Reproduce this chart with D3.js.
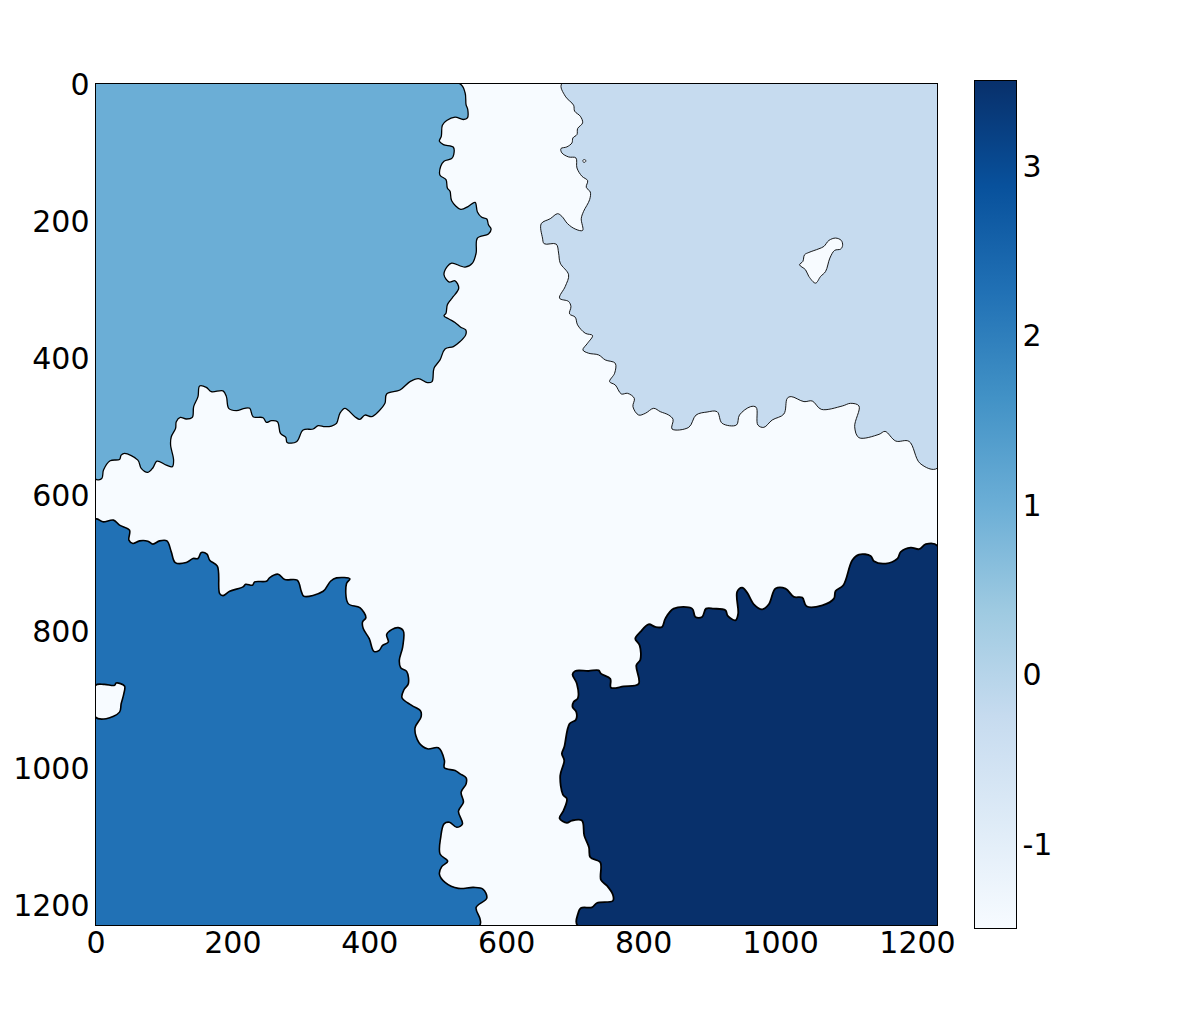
<!DOCTYPE html>
<html>
<head>
<meta charset="utf-8">
<script src="https://cdnjs.cloudflare.com/ajax/libs/d3/7.8.5/d3.min.js"></script>
<style>
html, body { margin: 0; padding: 0; background: #fff; }
svg { display: block; }
text { font-family: "DejaVu Sans", sans-serif; font-size: 30px; fill: #000; }
</style>
</head>
<body>
<div id="chart"></div>
<script>
// tick labels
const xTicks = [0, 200, 400, 600, 800, 1000, 1200]
const yTicks = [0, 200, 400, 600, 800, 1000, 1200]
const barTicks = [-1, 0, 1, 2, 3]

// Blues colormap stops, spread over the colorbar range
const bluesStops = ['#f7fbff', '#deebf7', '#c6dbef', '#9ecae1', '#6baed6', '#4292c6', '#2171b5', '#08519c', '#08306b']
const barRange = [-1.5, 3.5]

// value of each segment
const backgroundValue = -1.5
const topLeftValue = 1
const topRightValue = -0.25
const bottomLeftValue = 2.25
const bottomRightValue = 3.5

// segment outlines in image coordinates
const topLeft = [[0,0],[531.6,0],[539.9,13.6],[541.3,30.7],[543.8,38],[543.3,50.2],[537.4,52.6],[525.2,49.2],[513,54.1],[506.7,61],[505.2,77],[502.3,84.3],[508.2,89.2],[522.8,93.1],[523.3,103.8],[520.3,109.7],[509.1,113.6],[504.3,120.9],[503.3,134.1],[512,140.4],[514,152.6],[517.9,157.5],[520.3,171.2],[533.5,183.8],[544.7,179.4],[554.5,173.6],[557.9,187.7],[564.2,195.5],[571.6,198],[574,206.3],[577.9,212.6],[574,219.9],[557.9,225.8],[556,247.7],[550.6,262.4],[539.9,268.2],[520.3,262.4],[514,267.2],[509.1,279.4],[516.9,290.1],[525.2,288.2],[530.6,298.9],[522.8,311.1],[518.9,316],[514,323.3],[512,335.5],[509.1,339.4],[516.9,344.3],[525.2,349.2],[533.5,356],[540.8,359.9],[540.8,367.2],[532.6,377],[522.8,384.3],[510.6,387.7],[503.3,403.8],[494.5,416],[491.6,435.5],[484.8,437],[471.6,431.1],[459.4,435.5],[444.8,447.7],[425.3,453.5],[422.8,467.2],[413.1,479.4],[403.3,486.7],[393.6,484.3],[386.2,490.6],[378.9,486.7],[364.3,474.5],[357,481.8],[352.1,496.4],[344.8,500.4],[335,501.3],[325.3,499.9],[318,504.7],[303.3,506.2],[293.6,523.3],[279.9,524.3],[278,516.9],[270.2,511.1],[265.8,494],[257,492.5],[249.7,495],[244.8,488.2],[230.2,486.7],[225.3,474.5],[218,474.5],[205.8,477.9],[194.6,474.5],[191.2,457.4],[186.3,449.1],[169.2,450.1],[161.9,443.8],[152.1,441.8],[149.7,457.4],[143.4,472.1],[141.4,487.7],[132.6,490.1],[123.9,487.7],[118,494],[117,503.8],[110.7,516],[109.7,528.1],[114.1,550.1],[112.2,559.9],[103.4,557.4],[89.7,551.6],[83.9,561.3],[76.5,568.1],[66.8,562.3],[61.9,550.1],[42.4,540.3],[37.5,542.8],[35.1,549.1],[21.4,551.1],[11.7,564.7],[9.2,576.9],[0,577.9]]

const topRight = [[681.3,0],[686.2,18.5],[698.4,31.7],[699.9,40.4],[708.2,47.8],[711.6,57.5],[704.3,65.8],[703.3,74.6],[697.4,79.5],[696,86.8],[688.6,92.6],[679.9,95.1],[681.3,101.4],[691.1,107.3],[701.8,108.7],[703.3,123.4],[710.6,135.5],[718.9,141.9],[716.9,151.6],[722.8,158.5],[721.8,169.7],[713,186.8],[709.6,197.5],[711.6,214.6],[700.8,212.6],[689.6,204.8],[681.3,194.1],[675,190.2],[664.3,197.5],[651.1,204.8],[653,225.8],[655.5,234.1],[673,234.6],[676.5,247.7],[678.9,262.4],[691.1,279.4],[686.2,296.5],[677.9,313.6],[691.1,318.4],[694.5,325.8],[692.5,336.5],[700.8,341.4],[704.2,352.6],[715.4,364.8],[726.1,368.2],[718.8,379.4],[712,389.2],[720.3,394],[734.9,396.5],[744.7,403.8],[759.3,408.7],[758.3,423.3],[751,435.5],[759.3,440.4],[768.1,453.5],[777.3,452.6],[787.1,459.9],[785.1,472.1],[793.4,484.3],[803.2,481.8],[815.4,474.5],[825.1,479.4],[837.3,484.3],[843.7,490.6],[842.2,504.7],[866.6,502.3],[877.3,484.3],[893.4,479.9],[908,479.4],[915.4,496.4],[936.3,498.9],[940.7,484.3],[956.8,472.1],[965.1,473],[967.6,498.9],[976.3,502.3],[988.5,491.6],[1005.6,482.8],[1010.5,459.9],[1016.3,457.4],[1034.9,464.7],[1047,463.8],[1060.2,476],[1090.9,471.1],[1103.1,467.2],[1115.3,471.1],[1109,501.3],[1115.3,517.4],[1144.6,512.5],[1153.4,508.2],[1169,522.3],[1188.5,522.8],[1204.6,555],[1230,561.8],[1230,0]]

const bottomLeft = [[0,636.4],[10.7,640.3],[26.3,637.8],[35.1,645.1],[49.7,652.5],[48.8,667.1],[54.6,672],[64.4,668.1],[76.5,668.6],[83.9,672.9],[93.6,668.1],[104.3,668.1],[110.7,684.2],[116.5,699.8],[132.6,699.8],[142.4,693.9],[149.7,693.9],[154.6,685.1],[162.9,687.6],[166.8,696.4],[178,705.1],[181.4,745.1],[186.3,748.1],[196,741.7],[215.5,735.4],[219.4,731.5],[229.2,732.9],[232.6,728.1],[249.7,727.1],[254.6,721.7],[266.8,716.8],[276.5,724.6],[294.6,725.6],[300.9,742.7],[304.3,749],[332.6,741.7],[343.3,727.1],[352.1,722.2],[371.6,723.7],[366.7,730.5],[369.2,759.8],[386.2,765.6],[395,780.2],[390.1,786.6],[391.1,796.3],[399.9,811],[406.7,829.5],[414.5,828],[419.4,820.7],[427.7,815.9],[425.3,805.1],[432.6,797.8],[442.3,794.9],[449.7,799.8],[448.7,823.2],[443.8,842.7],[445.8,853.4],[454.5,858.8],[457,876.8],[450.6,885.6],[447.7,897.3],[461.9,908.5],[475,916.8],[475.5,925.6],[466.7,941.7],[472.6,963.1],[484.8,971.9],[500.9,970.4],[509.7,989],[509.7,999.7],[525.3,1003.6],[532.6,1008.5],[541.4,1014.3],[541.4,1023.1],[534.1,1035.3],[537.5,1049.9],[530.2,1063.1],[536,1081.6],[527.7,1086.5],[517,1079.2],[509.2,1081.6],[504.3,1101.1],[503.3,1125.5],[514.5,1136.2],[505.8,1144],[502.4,1154.8],[510.6,1167],[530.2,1175.8],[552.1,1174.3],[565.8,1176.7],[571.6,1189.9],[556,1203.6],[561.8,1220.6],[560.9,1230],[0,1230]]

const bottomRight = [[704.2,1230],[704.7,1213.3],[709.1,1204.5],[725.2,1203.5],[732.5,1197.2],[755.9,1193.8],[755.9,1185.5],[747.1,1171.8],[738.4,1163.5],[737.4,1137.7],[722.8,1130.4],[720.8,1115.7],[714,1098.7],[710.6,1076.7],[695.9,1076.7],[688.6,1080.1],[677.9,1073.3],[683.7,1062.1],[688.6,1045],[682.8,1038.7],[678.9,1010.9],[684.7,989],[681.3,979.2],[684.7,969.4],[692.5,935.3],[701.8,929.4],[702.3,918.2],[696.9,910.9],[698.4,903.6],[704.7,897.7],[703.2,876.8],[696.9,863.1],[700.8,858.2],[720.3,858.2],[735,857.3],[738.4,862.1],[752,869.5],[753,882.6],[771.5,880.7],[793.5,876.8],[790.1,849.9],[795.9,841.7],[794.9,820.8],[788.5,811],[795.9,801.2],[808,790],[817.8,793.9],[827.6,793.9],[832.4,781.7],[844.6,767.1],[871.5,767.1],[876.3,779.3],[886.1,779.3],[891.9,767.1],[903.2,767.1],[920.2,769.5],[923.6,777.8],[934.9,784.2],[938.8,774.4],[937.3,742.7],[944.6,736.4],[951.9,743.7],[961.7,760.8],[973.9,768.1],[983.6,760.8],[993.4,737.8],[1008,737.8],[1020.2,750],[1032.4,751],[1038.7,763.7],[1061.7,762.2],[1078.7,752.5],[1081.1,741.3],[1092.4,733],[1105.5,696.4],[1115.3,688.1],[1132.4,690.1],[1137.3,697.9],[1154.3,701.3],[1171.4,694],[1176.3,684.2],[1190.9,677.9],[1203.1,680.3],[1212.8,673],[1230,675.4],[1230,1230]]

// little islands of background inside the segments
const islandTopRight = [[1028.5,264.8],[1033.3,259.9],[1035.8,250.2],[1042.1,246.8],[1056.8,241.4],[1064,238],[1071.4,229.2],[1081.1,225.8],[1089.4,229.2],[1091.4,236.5],[1088.5,241.9],[1079.7,243.8],[1072.8,255],[1066.5,274.6],[1059.2,281.9],[1051.9,291.6],[1042.1,281.9],[1037.2,272.1]]
const speckTopRight = [[711.6,113],[713,111.4],[715.2,111.3],[716.4,113],[715.2,114.9],[713,115]]
const islandBottomLeft = [[0,879.2],[13.1,877.8],[27.8,879.2],[30.2,875.8],[42.4,880.2],[41.4,891.4],[37.5,906.1],[35.1,918.3],[15.6,928],[0,925.6]]

const width = 1196
const height = 1009
const margin = { left: 95.5, top: 83.5, right: 937.5, bottom: 925.5 }

let svg = d3.select('#chart').append('svg')
	.attr('width', width)
	.attr('height', height)

let x = d3.scaleLinear().domain([0, 1230]).range([margin.left, margin.right])
let y = d3.scaleLinear().domain([0, 1230]).range([margin.top, margin.bottom])

// colormap runs linearly over the colorbar range
let color = d3.scaleLinear()
	.domain(bluesStops.map(function(d, i){ return barRange[0] + (barRange[1] - barRange[0]) * i / (bluesStops.length - 1) }))
	.range(bluesStops)

// centripetal spline takes the corners off the traced outline
let line = d3.line()
	.x(function(d){ return x(d[0]) })
	.y(function(d){ return y(d[1]) })
	.curve(d3.curveCatmullRomClosed.alpha(0.5))

svg.append('clipPath').attr('id', 'plot-clip')
	.append('rect')
	.attr('x', margin.left).attr('y', margin.top)
	.attr('width', margin.right - margin.left)
	.attr('height', margin.bottom - margin.top)

let plot = svg.append('g').attr('clip-path', 'url(#plot-clip)')

plot.append('rect')
	.attr('x', margin.left).attr('y', margin.top)
	.attr('width', margin.right - margin.left)
	.attr('height', margin.bottom - margin.top)
	.attr('fill', color(backgroundValue))

// outlines look thinner on the pale segments
let segments = [
	{ points: topLeft, value: topLeftValue, edge: 1.3 },
	{ points: topRight, value: topRightValue, edge: 0.9 },
	{ points: bottomLeft, value: bottomLeftValue, edge: 1.6 },
	{ points: bottomRight, value: bottomRightValue, edge: 1.8 },
	{ points: islandTopRight, value: backgroundValue, edge: 0.9 },
	{ points: speckTopRight, value: backgroundValue, edge: 0.8 },
	{ points: islandBottomLeft, value: backgroundValue, edge: 1.6 }
]

plot.selectAll('path')
	.data(segments)
	.enter()
	.append('path')
	.attr('d', function(d){ return line(d.points) })
	.attr('fill', function(d){ return color(d.value) })
	.attr('stroke', '#000')
	.attr('stroke-width', function(d){ return d.edge })
	.attr('stroke-linejoin', 'round')

// frame
svg.append('rect')
	.attr('x', margin.left).attr('y', margin.top)
	.attr('width', margin.right - margin.left)
	.attr('height', margin.bottom - margin.top)
	.attr('fill', 'none')
	.attr('stroke', '#000')
	.attr('stroke-width', 1)

// axes, no tick marks on this one
let xAxis = svg.append('g')
	.attr('transform', 'translate(0,' + margin.bottom + ')')
	.call(d3.axisBottom(x).tickValues(xTicks).tickSize(0).tickPadding(6).tickFormat(String))
let yAxis = svg.append('g')
	.attr('transform', 'translate(' + margin.left + ',0)')
	.call(d3.axisLeft(y).tickValues(yTicks).tickSize(0).tickPadding(6).tickFormat(String))

// colorbar
let bar = { left: 974.5, right: 1016.5, top: 80.5, bottom: 928.5 }
let barScale = d3.scaleLinear().domain(barRange).range([bar.bottom, bar.top])

let gradient = svg.append('defs').append('linearGradient')
	.attr('id', 'blues')
	.attr('x1', 0).attr('x2', 0).attr('y1', 1).attr('y2', 0)
gradient.selectAll('stop')
	.data(bluesStops)
	.enter()
	.append('stop')
	.attr('offset', function(d, i){ return i / (bluesStops.length - 1) })
	.attr('stop-color', function(d){ return d })

svg.append('rect')
	.attr('x', bar.left).attr('y', bar.top)
	.attr('width', bar.right - bar.left)
	.attr('height', bar.bottom - bar.top)
	.attr('fill', 'url(#blues)')
	.attr('stroke', '#000')
	.attr('stroke-width', 1)

let barAxis = svg.append('g')
	.attr('transform', 'translate(' + bar.right + ',0)')
	.call(d3.axisRight(barScale).tickValues(barTicks).tickSize(0).tickPadding(6).tickFormat(String))

// labels sit a touch lower than d3's default centring
yAxis.selectAll('text').attr('dy', '0.36em')
barAxis.selectAll('text').attr('dy', '0.36em')

svg.selectAll('.domain').remove()
</script>
</body>
</html>
